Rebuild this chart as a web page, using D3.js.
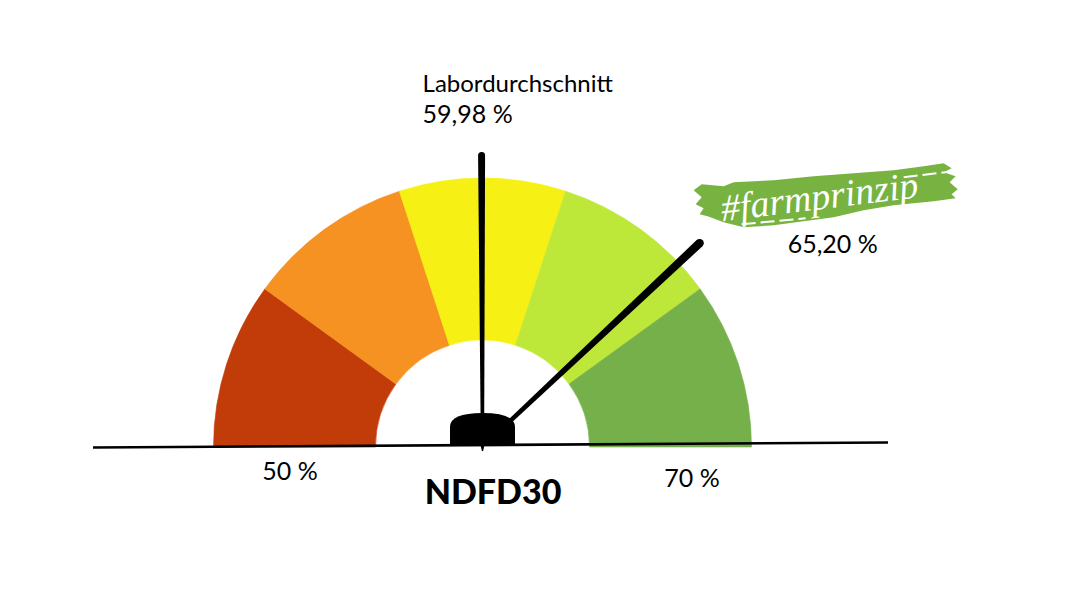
<!DOCTYPE html>
<html>
<head>
<meta charset="utf-8">
<script src="https://cdn.jsdelivr.net/npm/d3@7"></script>
<style>
  html, body { margin: 0; padding: 0; background: #fff; }
  svg { display: block; font-family: Lato, "Noto Sans", sans-serif; }
</style>
</head>
<body>
<svg id="chart" width="1072" height="615"></svg>
<script>
// gauge segments (percent bounds) and their colours
const segmentBounds = [50, 54, 58, 62, 66, 70];
const segmentColors = ["#c13c08", "#f59222", "#f6f014", "#bde83a", "#75b04a"];
const scaleLabels = ["50 %", "70 %"];
const axisTitle = "NDFD30";

// needles
const needleNames = ["Labordurchschnitt", "#farmprinzip"];
const needleValues = [59.98, 65.20];

const width = 1072, height = 615;
const cx = 482.5, cy = 447;
const outerR = 269, innerR = 107;

const svg = d3.select('#chart');
const g = svg.append('g').attr('transform', `translate(${cx},${cy})`);

const de = d3.formatLocale({ decimal: ",", thousands: ".", grouping: [3], currency: ["", " €"] });
const fmt = v => de.format(".2f")(v) + " %";

// value -> angle (0 = straight up, clockwise)
const angle = d3.scaleLinear()
  .domain([segmentBounds[0], segmentBounds[segmentBounds.length - 1]])
  .range([-Math.PI / 2, Math.PI / 2]);

const arc = d3.arc().innerRadius(innerR).outerRadius(outerR);

const segs = d3.pairs(segmentBounds).map((p, i) => ({ from: p[0], to: p[1], color: segmentColors[i] }));

g.selectAll('path.seg')
  .data(segs)
  .enter()
  .append('path')
  .attr('class', 'seg')
  .attr('d', d => arc({ startAngle: angle(d.from), endAngle: angle(d.to) }))
  .attr('fill', d => d.color)
  .attr('stroke', d => d.color)
  .attr('stroke-width', 0.6);

// base line (slightly tilted as in the original)
svg.append('line')
  .attr('x1', 93).attr('y1', 447.5)
  .attr('x2', 888).attr('y2', 442.5)
  .attr('stroke', '#000')
  .attr('stroke-width', 2.6);

// min / max labels
svg.append('text')
  .attr('x', 290).attr('y', 480)
  .attr('text-anchor', 'middle')
  .attr('font-size', 25)
  .text(scaleLabels[0]);

svg.append('text')
  .attr('x', 692).attr('y', 487)
  .attr('text-anchor', 'middle')
  .attr('font-size', 25)
  .text(scaleLabels[1]);

svg.append('text')
  .attr('x', 493).attr('y', 504)
  .attr('text-anchor', 'middle')
  .attr('font-size', 34)
  .attr('font-weight', 900)
  .text(axisTitle);

// needles
const needleLen = [295, 302];
const needleW = [[3.5, 7], [4, 8.5]];

function needlePath(len, w0, w1) {
  const r0 = 20;
  return `M${-w0 / 2},${-r0} L${-w1 / 2},${-len + w1 / 2}` +
    ` A${w1 / 2},${w1 / 2} 0 0 1 ${w1 / 2},${-len + w1 / 2}` +
    ` L${w0 / 2},${-r0} Z`;
}

needleValues.forEach((v, i) => {
  g.append('path')
    .attr('d', needlePath(needleLen[i], needleW[i][0], needleW[i][1]))
    .attr('transform', `rotate(${angle(v) * 180 / Math.PI})`)
    .attr('fill', '#000');
});

// hub
g.append('path')
  .attr('d', 'M-32.5,-2 V-20 Q-32.5,-34 0,-34 Q32.5,-34 32.5,-20 V-2 Z')
  .attr('fill', '#000');
g.append('path')
  .attr('d', 'M-2,-2 L2,-2 L0.6,4 L-0.6,4 Z')
  .attr('fill', '#000');

const tip = i => {
  const a = angle(needleValues[i]);
  return [cx + needleLen[i] * Math.sin(a), cy - needleLen[i] * Math.cos(a)];
};

// label of the lab average
const t0 = tip(0);
svg.append('text')
  .attr('x', t0[0] - 59).attr('y', t0[1] - 60)
  .attr('font-size', 24)
  .text(needleNames[0]);
svg.append('text')
  .attr('x', t0[0] - 59).attr('y', t0[1] - 29)
  .attr('font-size', 25)
  .text(fmt(needleValues[0]));

// label of the farm value: brush banner + value
const t1 = tip(1);
const bx = t1[0] - 9, by = t1[1] - 78;
const banner = svg.append('g').attr('transform', `translate(${bx},${by})`);
banner.append('path')
  .attr('d', 'M0,28 L8,22 L30,24 L40,20 L80,18 L120,14 L160,11 L200,8 L230,4 L250,1 L258,6 L250,10 L262,14 ' +
             'L256,20 L264,27 L258,32 L262,36 L240,39 L200,43 L170,48 L140,55 L110,59 L80,63 L50,65 L30,60 ' +
             'L14,54 L6,52 L10,46 L2,42 L8,35 Z')
  .attr('fill', '#78b342');
banner.append('text')
  .attr('x', 126).attr('y', 47)
  .attr('text-anchor', 'middle')
  .attr('font-family', '"Liberation Serif", serif')
  .attr('font-style', 'italic')
  .attr('font-size', 38)
  .attr('fill', '#fff')
  .attr('transform', 'rotate(-7 126 36)')
  .text(needleNames[1]);
banner.append('path')
  .attr('d', 'M48,62 L112,56 M210,15 L252,10')
  .attr('stroke', '#fff')
  .attr('stroke-width', 2)
  .attr('stroke-dasharray', '14 5');

svg.append('text')
  .attr('x', t1[0] + 85).attr('y', t1[1] + 13)
  .attr('font-size', 25)
  .text(fmt(needleValues[1]));
</script>
</body>
</html>
